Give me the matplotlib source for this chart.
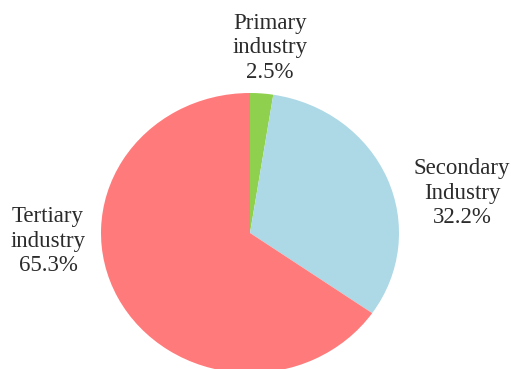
import matplotlib
matplotlib.use("Agg")
import matplotlib.pyplot as plt

# Share of GDP by industry
categories = ["Primary\nindustry", "Secondary\nIndustry", "Tertiary\nindustry"]
shares = [2.5, 32.2, 65.3]
colors = ["#8fd14f", "#add8e6", "#ff7b7b"]

W, H = 511, 369
fig = plt.figure(figsize=(W / 100, H / 100), dpi=100)
ax = fig.add_axes([0, 0, 1, 1])

# pie centre / radii in pixels (slightly wider than tall)
cx, cy, rx, ry = 250, 233, 149, 140

ax.pie(shares, colors=colors, startangle=90, counterclock=False,
       radius=1, center=(0, 0), wedgeprops=dict(linewidth=0))
ax.set_aspect("auto")
ax.set_xlim(-cx / rx, (W - cx) / rx)
ax.set_ylim(-(H - cy) / ry, cy / ry)
ax.axis("off")


def to_data(px, py):
    return (px - cx) / rx, (cy - py) / ry


label_pos = [(270, 48), (462, 193), (48, 241)]
for name, val, (px, py) in zip(categories, shares, label_pos):
    x, y = to_data(px, py)
    ax.text(x, y, f"{name}\n{val}%", ha="center", va="center",
            fontsize=16.5, family="Liberation Serif", color="#2b2b2b",
            linespacing=1.2)

fig.savefig("out.png", dpi=100)
